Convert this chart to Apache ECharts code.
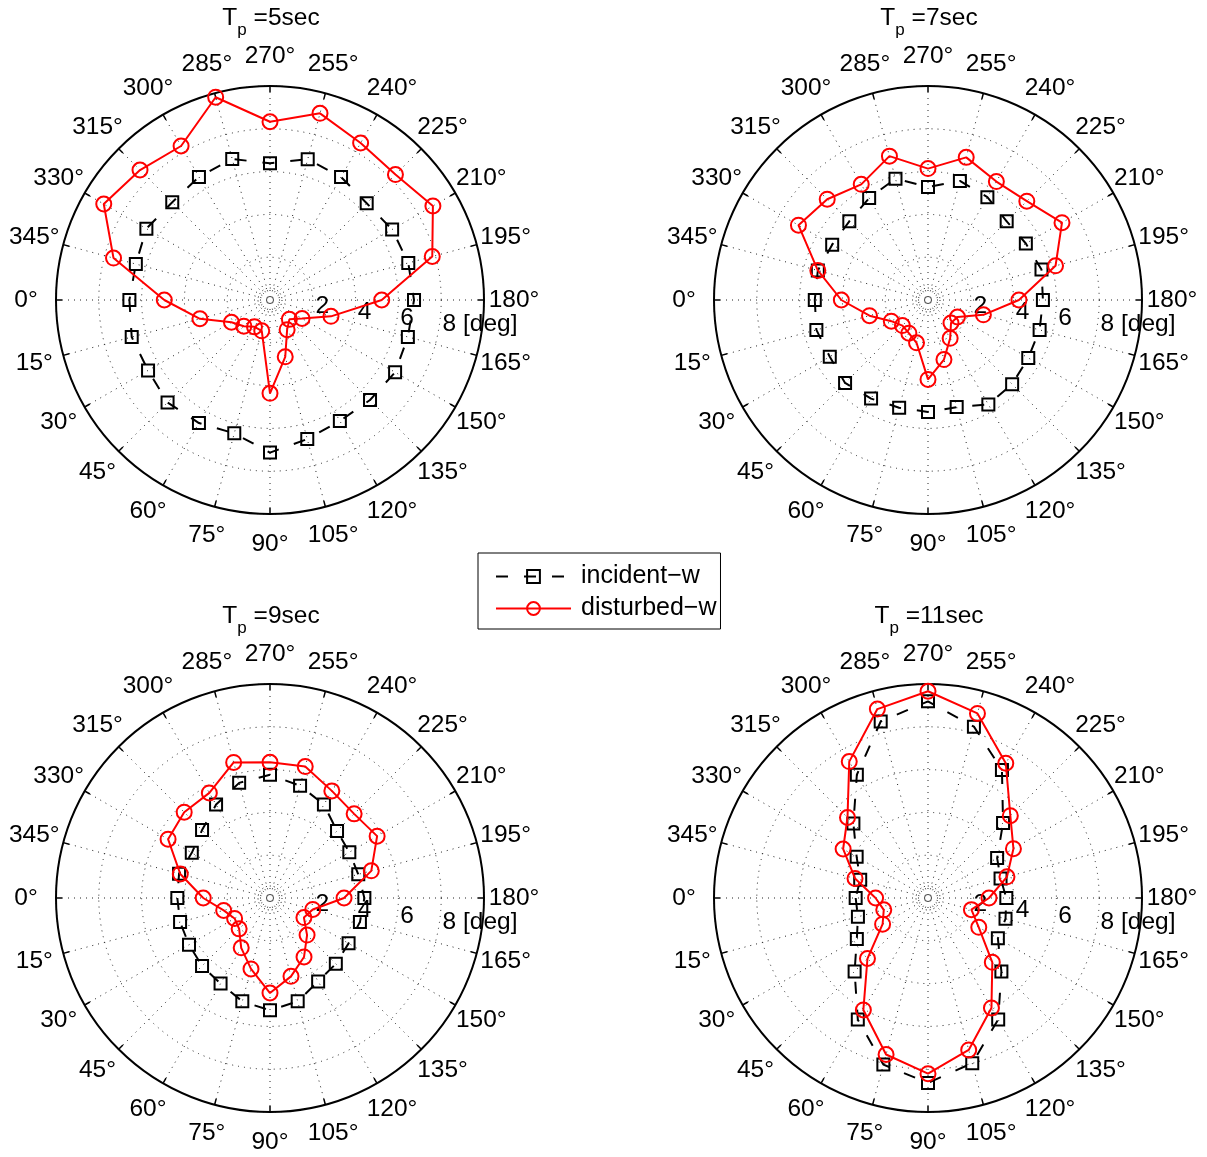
<!DOCTYPE html>
<html>
<head>
<meta charset="utf-8">
<script src="https://cdn.jsdelivr.net/npm/echarts@6/dist/echarts.min.js"></script>
<style>
html,body{margin:0;padding:0;background:#fff;}
#chart{width:1207px;height:1157px;}
</style>
</head>
<body>
<div id="chart"></div>
<script>
// ---- data (radius in deg, at each direction angle) ----
const angles = [0,15,30,45,60,75,90,105,120,135,150,165,180,195,210,225,240,255,270,285,300,315,330,345];
const angleTickLabels = ['0°','15°','30°','45°','60°','75°','90°','105°','120°','135°','150°','165°','180°','195°','210°','225°','240°','255°','270°','285°','300°','315°','330°','345°'];
const radiusTickLabels = ['2','4','6','8 [deg]'];
const radiusTickValues = [2,4,6,8];
const panelTitles = ['=5sec','=7sec','=9sec','=11sec'];
const seriesNames = ['incident−w','disturbed−w'];

const tp5Incident  = [6.57,6.69,6.58,6.77,6.64,6.45,7.13,6.73,6.53,6.61,6.75,6.67,6.73,6.69,6.59,6.39,6.64,6.81,6.39,6.82,6.64,6.46,6.67,6.49];
const tp5Disturbed = [4.94,3.39,2.08,1.73,1.45,1.49,4.36,2.75,1.60,1.28,1.73,2.95,5.22,7.85,8.79,8.29,8.47,9.03,8.33,9.81,8.31,8.59,8.97,7.57];
const tp7Incident  = [5.29,5.40,5.30,5.48,5.32,5.21,5.23,5.18,5.64,5.56,5.41,5.40,5.37,5.49,5.28,5.20,5.55,5.76,5.28,5.87,5.50,5.20,5.17,5.33];
const tp7Disturbed = [4.05,2.83,1.98,1.69,1.79,2.07,3.71,2.88,2.07,1.52,1.59,2.68,4.25,6.17,7.23,6.53,6.39,6.90,6.14,6.96,6.24,6.66,6.99,5.33];
const tp9Incident  = [4.33,4.35,4.37,4.49,4.62,5.00,5.25,5.00,4.50,4.35,4.24,4.35,4.41,4.27,4.28,4.43,5.04,5.43,5.76,5.57,5.04,4.49,4.22,4.40];
const tp9Disturbed = [3.12,2.24,1.91,2.04,2.69,3.43,4.44,3.79,3.18,2.45,1.83,2.07,3.46,4.90,5.78,5.56,5.78,6.36,6.34,6.56,5.67,5.67,5.50,4.34];
const tp11Incident  = [3.38,3.39,3.84,4.85,6.56,8.06,8.64,7.99,6.56,4.85,3.77,3.75,3.66,3.51,3.73,4.96,6.91,8.29,9.19,8.54,6.65,4.93,3.85,3.28];
const tp11Disturbed = [2.45,2.14,2.45,4.00,6.04,7.57,8.21,7.35,5.93,4.25,2.74,2.10,2.85,3.82,4.61,5.44,7.27,8.93,9.66,9.14,7.36,5.32,4.58,3.53];

const incidentSets  = [tp5Incident, tp7Incident, tp9Incident, tp11Incident];
const disturbedSets = [tp5Disturbed, tp7Disturbed, tp9Disturbed, tp11Disturbed];

// ---- layout / style ----
const FONT = "'Liberation Sans', Arial, Helvetica, sans-serif";
const centers = [[270,300],[928,300],[270,898],[928,898]];
const titleTops = [-2, -2, 596, 596];
const R = 214;
const RMAX = 10;
const LABEL_GAP = 30; // px between outer circle and the centre of the angle labels

function closed(vals){
  const pts = vals.map((r,k) => [r, angles[k]]);
  pts.push({value:[vals[0], 360], symbol:'none'});
  return pts;
}

const polar = [], angleAxis = [], radiusAxis = [], series = [], title = [];
for (let i = 0; i < 4; i++) {
  const c = centers[i];
  polar.push({center: c, radius: R});
  angleAxis.push({
    polarIndex: i, type: 'value', min: 0, max: 360, interval: 15,
    startAngle: 180, clockwise: false,
    axisLine: {show: true, lineStyle: {color: '#000', width: 2}},
    axisTick: {show: true, inside: true, length: 6, lineStyle: {color: '#000', width: 1.5}},
    axisLabel: {show: false},
    splitLine: {show: true, lineStyle: {type: [1,5], color: '#222', width: 1}}
  });
  radiusAxis.push({
    polarIndex: i, type: 'value', min: 0, max: RMAX, interval: 2,
    axisLine: {show: false}, axisTick: {show: false}, axisLabel: {show: false},
    splitLine: {show: true, lineStyle: {type: [1,5], color: '#222', width: 1}}
  });
}
for (let i = 0; i < 4; i++) {
  polar.push({center: centers[i], radius: R});
  angleAxis.push({polarIndex: 4 + i, type: 'value', min: 0, max: 360, startAngle: 352, show: false});
  radiusAxis.push({
    polarIndex: 4 + i, type: 'value', min: 0, max: RMAX, interval: 2,
    axisLine: {show: false}, axisTick: {show: false}, splitLine: {show: false},
    axisLabel: {
      show: true, margin: 0, align: 'left', verticalAlign: 'middle', padding: [0,0,0,3],
      color: '#000', fontSize: 24.5, fontFamily: FONT,
      formatter: v => { const k = radiusTickValues.indexOf(v); return k >= 0 ? radiusTickLabels[k] : ''; }
    }
  });
}
for (let i = 0; i < 4; i++) {
  polar.push({center: centers[i], radius: 12});
  angleAxis.push({
    polarIndex: 8 + i, type: 'value', min: 0, max: 360,
    axisLine: {show: true, lineStyle: {type: [1,3], color: '#000', width: 1}},
    axisTick: {show: false}, axisLabel: {show: false}, splitLine: {show: false}
  });
  radiusAxis.push({polarIndex: 8 + i, type: 'value', min: 0, max: 1, show: false});
}

for (let i = 0; i < 4; i++) {
  series.push({
    type: 'line', name: seriesNames[0], coordinateSystem: 'polar', polarIndex: i,
    data: closed(incidentSets[i]),
    symbol: 'rect', symbolSize: 12,
    lineStyle: {color: '#000', width: 2, type: [12,16]},
    itemStyle: {color: 'rgba(0,0,0,0)', borderColor: '#000', borderWidth: 2},
    emphasis: {disabled: true}, z: 3
  });
  series.push({
    type: 'line', name: seriesNames[1], coordinateSystem: 'polar', polarIndex: i,
    data: closed(disturbedSets[i]),
    symbol: 'circle', symbolSize: 15,
    lineStyle: {color: '#ff0000', width: 2},
    itemStyle: {color: 'rgba(255,0,0,0)', borderColor: '#ff0000', borderWidth: 2},
    emphasis: {disabled: true}, z: 4
  });
  title.push({
    text: '{m|T}{s|p}{m|\u00a0' + panelTitles[i] + '}',
    left: centers[i][0] + 1, top: titleTops[i], textAlign: 'center', padding: 0,
    textStyle: {
      fontWeight: 'normal', fontSize: 24.5, fontFamily: FONT, color: '#000',
      rich: {
        m: {fontSize: 24.5, fontWeight: 'normal', fontFamily: FONT, color: '#000'},
        s: {fontSize: 17, fontWeight: 'normal', fontFamily: FONT, color: '#000', padding: [24,0,0,0]}
      }
    }
  });
}

const chart = echarts.init(document.getElementById('chart'), null, {renderer: 'canvas'});
chart.setOption({
  backgroundColor: '#fff',
  animation: false,
  textStyle: {fontFamily: FONT},
  title: title,
  polar: polar,
  angleAxis: angleAxis,
  radiusAxis: radiusAxis,
  legend: {
    data: seriesNames, orient: 'vertical', left: 478, top: 553,
    padding: [11, 4, 8, 17], itemGap: 7, itemWidth: 75, itemHeight: 16,
    backgroundColor: '#fff', borderColor: '#000', borderWidth: 1, borderRadius: 0,
    selectedMode: false,
    textStyle: {fontSize: 25, color: '#000', fontFamily: FONT, lineHeight: 25, padding: [0,0,0,5]}
  },
  series: series
});

// angle tick labels: centred at a fixed distance outside the outer circle,
// positioned through the polar coordinate system of each panel
const labelRadius = RMAX * (R + LABEL_GAP) / R;
const graphics = [];
for (let i = 0; i < 4; i++) {
  angles.forEach((a, k) => {
    const p = chart.convertToPixel({polarIndex: i}, [labelRadius, a]);
    graphics.push({
      type: 'text', x: p[0], y: p[1], silent: true, z: 10,
      style: {
        text: angleTickLabels[k], fill: '#000',
        fontSize: 24.5, fontFamily: FONT,
        align: 'center', verticalAlign: 'middle',
        textAlign: 'center', textVerticalAlign: 'middle'
      }
    });
  });
}
chart.setOption({graphic: graphics});
</script>
</body>
</html>
